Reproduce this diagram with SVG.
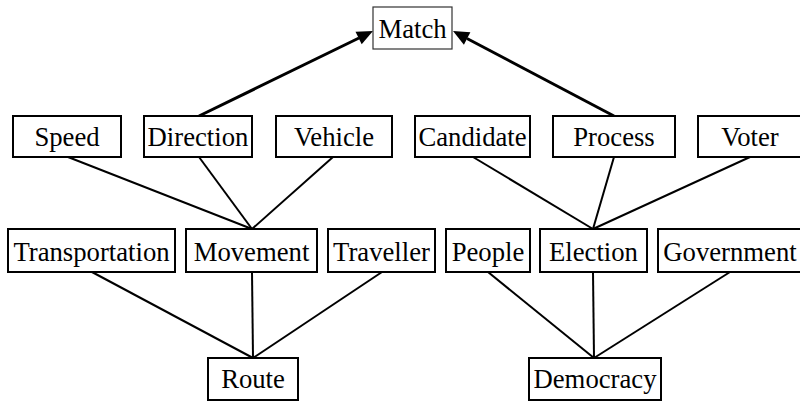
<svg xmlns="http://www.w3.org/2000/svg" width="800" height="401" viewBox="0 0 800 401">
<style>
rect{fill:#fff;stroke:#000;stroke-width:2}
text{font-family:"Liberation Serif","Times New Roman",serif;font-size:26.7px;text-anchor:middle;fill:#000}
.c line{stroke:#000;stroke-width:2}
.c .a{stroke-width:3}
#match rect{stroke:#333;stroke-width:1.2}
</style>
<rect x="0" y="0" width="800" height="401" style="fill:#fff;stroke:none"/>
<g class="c" id="connectors">
<line x1="68" y1="157" x2="252" y2="229"/>
<line x1="199" y1="157" x2="252" y2="229"/>
<line x1="333" y1="157" x2="252" y2="229"/>
<line x1="473" y1="157" x2="593" y2="229"/>
<line x1="614" y1="157" x2="593" y2="229"/>
<line x1="750" y1="157" x2="593" y2="229"/>
<line x1="92" y1="272" x2="253" y2="358"/>
<line x1="252" y1="272" x2="253" y2="358"/>
<line x1="382" y1="272" x2="253" y2="358"/>
<line x1="488" y1="272" x2="594" y2="358"/>
<line x1="593" y1="272" x2="594" y2="358"/>
<line x1="730" y1="272" x2="594" y2="358"/>
<line class="a" x1="199" y1="116" x2="359" y2="38"/>
<polygon points="373,31 361.7,44.3 355.5,31.7" fill="#000"/>
<line class="a" x1="614" y1="116" x2="467" y2="38.5"/>
<polygon points="453,31 470.4,32.3 463.9,44.7" fill="#000"/>
</g>
<g id="match"><rect x="373" y="7" width="79" height="42"/><text x="412.5" y="37.5">Match</text></g>
<g id="speed"><rect x="13" y="116" width="108" height="41"/><text x="67" y="145.5">Speed</text></g>
<g id="direction"><rect x="144" y="116" width="108" height="41"/><text x="198" y="145.5">Direction</text></g>
<g id="vehicle"><rect x="276" y="116" width="116" height="41"/><text x="334" y="145.5">Vehicle</text></g>
<g id="candidate"><rect x="415" y="116" width="115" height="41"/><text x="472.5" y="145.5">Candidate</text></g>
<g id="process"><rect x="553" y="116" width="122" height="41"/><text x="614" y="145.5">Process</text></g>
<g id="voter"><rect x="698" y="116" width="104" height="41"/><text x="750" y="145.5">Voter</text></g>
<g id="transportation"><rect x="8" y="229" width="167" height="43"/><text x="91.5" y="260.5">Transportation</text></g>
<g id="movement"><rect x="186" y="229" width="131" height="43"/><text x="251.5" y="260.5">Movement</text></g>
<g id="traveller"><rect x="328" y="229" width="107" height="43"/><text x="381.5" y="260.5">Traveller</text></g>
<g id="people"><rect x="446" y="229" width="84" height="43"/><text x="488" y="260.5">People</text></g>
<g id="election"><rect x="540" y="229" width="107" height="43"/><text x="593.5" y="260.5">Election</text></g>
<g id="government"><rect x="658" y="229" width="144" height="43"/><text x="730" y="260.5">Government</text></g>
<g id="route"><rect x="208" y="358" width="90" height="42"/><text x="253" y="388">Route</text></g>
<g id="democracy"><rect x="529" y="358" width="132" height="42"/><text x="595" y="388">Democracy</text></g>
</svg>
